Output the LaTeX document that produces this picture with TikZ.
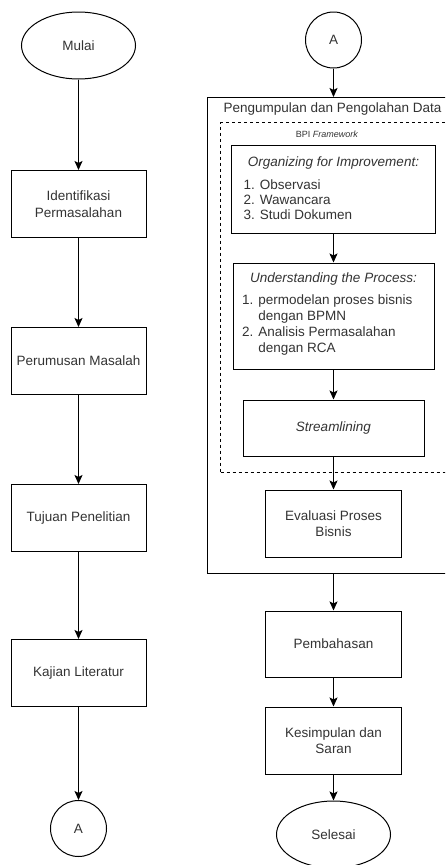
\documentclass[tikz,border=0pt]{standalone}
\usepackage{fontspec}
\setmainfont{Liberation Sans}
\usetikzlibrary{arrows.meta,shapes.geometric}
\begin{document}
\begin{tikzpicture}[x=1pt,y=-1pt,
  every node/.style={text=black!80, font=\fontsize{13.5}{16.5}\selectfont},
  txt/.style={inner sep=0pt},
  box/.style={draw=black, line width=1pt, rectangle, minimum width=135pt,
    minimum height=67pt, align=center, inner sep=0pt},
  frame/.style={draw=black, line width=1pt, rectangle, inner sep=0pt},
  oval/.style={draw=black, ellipse, line width=1pt, minimum width=114pt,
    minimum height=67pt, inner sep=0pt},
  conn/.style={draw=black, circle, line width=1pt, minimum size=56pt, inner sep=0pt},
  flow/.style={line width=1pt, draw=black, -{Stealth[length=9pt,width=8pt,inset=2pt]}},
]
\useasboundingbox (0,0) rectangle (445,865);
\clip (0,0) rectangle (445,865);

% left column
\node[oval] (start) at (78.5,45.5) {Mulai};
\node[box] (s1) at (78.5,204) {Identifikasi\\Permasalahan};
\node[box] (s2) at (78.5,361) {Perumusan Masalah};
\node[box] (s3) at (78.5,518) {Tujuan Penelitian};
\node[box] (s4) at (78.5,673) {Kajian Literatur};
\node[conn] (c1) at (78.5,828.5) {A};

\draw[flow] (start) -- (s1);
\draw[flow] (s1) -- (s2);
\draw[flow] (s2) -- (s3);
\draw[flow] (s3) -- (s4);
\draw[flow] (s4) -- (c1);

% right column
\node[conn] (c2) at (333.5,40) {A};

\node[frame, anchor=north west, minimum width=260pt, minimum height=476pt]
  (collect) at (207,97) {};
\node[txt] (collecttitle) at (332.5,109) {Pengumpulan dan Pengolahan Data};

\node[frame, dashed, dash pattern=on 3pt off 3pt, anchor=north west,
  minimum width=240pt, minimum height=350pt] (bpi) at (220,122) {};
\node[txt, font=\fontsize{9}{10}\selectfont] (bpititle) at (327,134) {BPI \textit{Framework}};

\node[frame, minimum width=204pt, minimum height=88pt] (org) at (333.5,189) {};
\node[txt, font=\fontsize{13.5}{16.5}\selectfont\itshape] (orgtitle) at (333.5,163)
  {Organizing for Improvement:};
\node[txt, anchor=west, align=left, font=\fontsize{13.5}{15}\selectfont] (orglist)
  at (243.5,200) {1. Observasi\\2. Wawancara\\3. Studi Dokumen};

\node[frame, minimum width=201pt, minimum height=106pt] (und) at (333.5,316) {};
\node[txt, font=\fontsize{13.5}{16.5}\selectfont\itshape] (undtitle) at (333.5,279)
  {Understanding the Process:};
\node[txt, anchor=west, align=left, font=\fontsize{13.5}{16}\selectfont] (undlist)
  at (242,325) {1. permodelan proses bisnis\\\hphantom{1. }dengan BPMN\\
  2. Analisis Permasalahan\\\hphantom{2. }dengan RCA};

\node[frame, minimum width=181pt, minimum height=56pt,
  font=\fontsize{13.5}{16.5}\selectfont\itshape] (stream) at (333.5,428) {Streamlining};

\node[box, minimum width=136pt] (eval) at (333.5,523.5) {Evaluasi Proses\\Bisnis};
\node[box, minimum width=136pt, minimum height=66pt] (pem) at (333.5,644) {Pembahasan};
\node[box, minimum width=136pt] (kes) at (333.5,740.5) {Kesimpulan dan\\Saran};
\node[oval] (finish) at (333.5,834.5) {Selesai};

\draw[flow] (c2) -- (c2 |- collect.north);
\draw[flow] (org) -- (und);
\draw[flow] (und) -- (stream);
\draw[flow] (stream) -- (eval);
\draw[flow] (collect.south -| pem) -- (pem);
\draw[flow] (pem) -- (kes);
\draw[flow] (kes) -- (finish);
\end{tikzpicture}
\end{document}
